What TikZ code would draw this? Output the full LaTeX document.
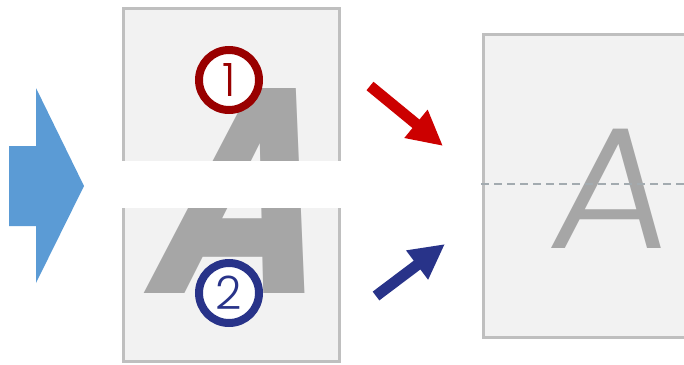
\documentclass[tikz,border=0pt]{standalone}
\usepackage{fontspec}
\setmainfont{Poppins}
\newfontfamily\thinfont{Poppins Light}
\usetikzlibrary{arrows.meta, positioning}
\definecolor{pagefill}{HTML}{F2F2F2}
\definecolor{pageline}{HTML}{BFBFBF}
\definecolor{glyphgray}{HTML}{A6A6A6}
\definecolor{inblue}{HTML}{5B9BD5}
\definecolor{darkred}{HTML}{990000}
\definecolor{brightred}{HTML}{CC0000}
\definecolor{navy}{HTML}{283389}
\definecolor{foldgray}{HTML}{A3ABB0}
\tikzset{
page/.style={draw=pageline, fill=pagefill, line width=3pt, inner sep=0pt}, % paper sheets
badge/.style={circle, draw=#1, text=#1, fill=white, line width=8pt, minimum size=60pt, inner sep=0pt, font=\thinfont\fontsize{46}{46}\selectfont}, % numbered circles
fatarrow/.style={draw=#1, line width=11pt, -{Triangle[length=35pt, width=34pt]}}, % thick pointers
}

\begin{document}
\begin{tikzpicture}[x=1pt, y=-1pt]
  \useasboundingbox (0,0) rectangle (684,364);

  % Incoming block arrow
  \fill[inblue] (9,146) -- (36,146) -- (36,88) -- (84,186) -- (36,283) -- (36,226) -- (9,226) -- cycle;

  % Source page with slanted letter
  \node[page, minimum width=216pt, minimum height=353pt] (src) at (231,185) {};
  \node[glyphgray, anchor=base, xslant=0.24, xscale=0.78, inner sep=0pt, font=\bfseries\fontsize{292}{292}\selectfont] (bigA) at (224,293) {A};

  % Cut through the page
  \fill[white] (100,161) rectangle (345,208);

  % Numbered halves
  \node[badge=darkred] (one) at (229,80) {1};
  \node[badge=navy] (two) at (229,293) {2};

  % Result page
  \node[page, minimum width=230pt, minimum height=303pt, anchor=north west] (dst) at (481.5,32.5) {};
  \node[glyphgray, anchor=base, xslant=0.12, xscale=1.08, inner sep=0pt, font=\thinfont\fontsize{173}{173}\selectfont] (flatA) at (606,248) {A};
  \coordinate (foldL) at (481,184);
  \coordinate (foldR) at (684,184);
  \draw[foldgray, line width=1.2pt, dash pattern=on 8pt off 5pt] (foldL) -- (foldR);

  % Pointers
  \coordinate (rtail) at (370,86);
  \coordinate (rtip) at (443,146);
  \coordinate (btail) at (376,296);
  \coordinate (btip) at (445,244);
  \draw[fatarrow=brightred] (rtail) -- (rtip);
  \draw[fatarrow=navy] (btail) -- (btip);
\end{tikzpicture}
\end{document}
